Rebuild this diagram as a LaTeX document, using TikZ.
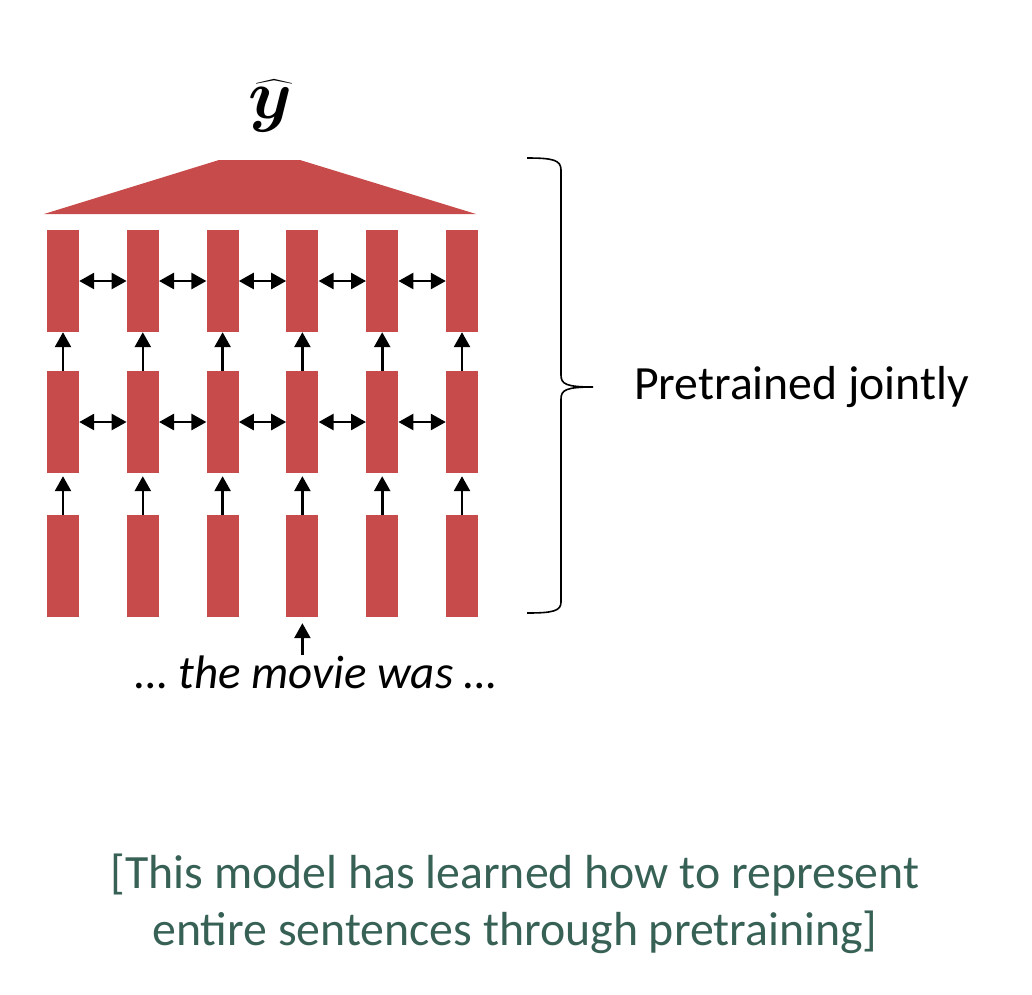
\RequirePackage{fix-cm}
\documentclass[tikz,border=0pt]{standalone}
\usepackage{amsmath}
\usepackage{fontspec}
\setmainfont{Carlito}
\usetikzlibrary{arrows.meta,positioning}
\definecolor{cellred}{RGB}{200,75,75}
\definecolor{notegreen}{RGB}{56,97,86}

\begin{document}
\begin{tikzpicture}[x=1pt,y=-1pt]
\tikzstyle{cell}=[fill=cellred, minimum width=32pt, minimum height=102pt, inner sep=0pt]
\tikzstyle{link}=[line width=2.6pt, -{Triangle[length=15pt,width=16pt]}]
\tikzstyle{dlink}=[line width=2.6pt, {Triangle[length=15pt,width=16pt]}-{Triangle[length=15pt,width=16pt]}]
\useasboundingbox (0,0) rectangle (1032,994);
\foreach \r/\y in {1/281,2/422,3/566}
  \foreach \i in {1,...,6}
    \node[cell] (c\r\i) at ({63+79.8*(\i-1)},\y) {};
\fill[cellred] (44,214) -- (219,160) -- (300,160) -- (476,214) -- cycle;
\node[inner sep=0pt] (yhat) at (270,106) {\fontsize{70}{70}\selectfont$\boldsymbol{\widehat{y}}$};
\foreach \r in {1,2}
  \foreach \i [count=\j from 2] in {1,...,5}
    \draw[dlink] (c\r\i.east) -- (c\r\j.west);
\foreach \i in {1,...,6} {
  \draw[link, shorten >=3pt] (c3\i.north) -- (c2\i.south);
  \draw[link] (c2\i.north) -- (c1\i.south);
}
\node[anchor=base, inner sep=0pt, font=\fontsize{47}{56}\selectfont\itshape] (inp) at (316,688) {… the movie was …};
\draw[link, shorten >=6pt] (inp.north -| c34.south) -- (c34.south);
% brace
\draw[line width=1.6pt] (527,158) .. controls (553,158) and (561,160) .. (561,170) -- (561,375)
  .. controls (561,384) and (566,387) .. (593,387) coordinate (tip)
  .. controls (566,387) and (561,390) .. (561,399) -- (561,602)
  .. controls (561,611) and (553,613) .. (527,613);
\node[right=41pt of tip, inner sep=0pt, font=\fontsize{47.7}{56}\selectfont] (lbl) {Pretrained jointly};
\node[align=center, text=notegreen, font=\fontsize{47.8}{57}\selectfont, anchor=north, inner sep=0pt] (note) at (515,854)
  {[This model has learned how to represent\\entire sentences through pretraining]};
\end{tikzpicture}
\end{document}
